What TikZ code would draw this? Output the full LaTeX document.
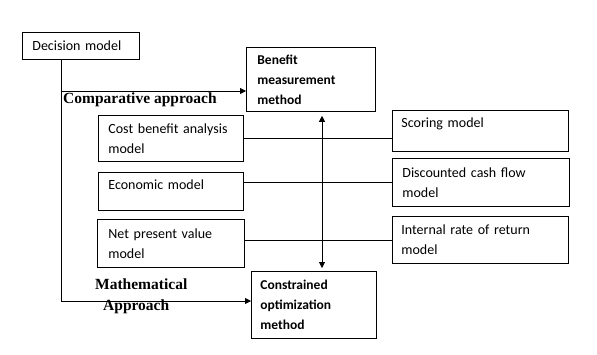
\documentclass[tikz,border=0pt]{standalone}
\usepackage{fontspec}
\setmainfont{Carlito}
\newfontfamily\headfont{Liberation Serif}
\usetikzlibrary{arrows.meta,positioning}

\tikzset{
  modelbox/.style={draw, line width=.8pt, anchor=north west, align=left,
    inner xsep=10pt, inner ysep=2pt, font=\fontsize{14}{20}\selectfont},
  topline/.style={inner ysep=3pt, text height=14.5pt, text depth=#1},
  approach/.style={inner sep=0pt, align=left,
    font=\headfont\bfseries\fontsize{15.5}{21}\selectfont},
  link/.style={line width=.8pt},
  flow/.style={link, -{Triangle[length=6pt,width=6pt]}},
}

\begin{document}
\begin{tikzpicture}[x=1pt,y=-1pt]
  \useasboundingbox[fill=white] (0,0) rectangle (597,354);
  % boxes
  \node[modelbox, text width=97pt, minimum height=27pt] (decision) at (22,32) {Decision model};
  \node[modelbox, inner xsep=11pt, text width=107pt, minimum height=64pt, font=\bfseries\fontsize{13.5}{20}\selectfont] (benefit) at (246,47) {Benefit\\measurement\\method};
  \node[modelbox, text width=125pt, minimum height=46pt] (cost) at (98,115) {Cost benefit analysis\\model};
  \node[modelbox, topline=17.5pt, text width=125pt, minimum height=38pt] (econ) at (98,172) {Economic model};
  \node[modelbox, inner xsep=11pt, text width=125pt, minimum height=48pt] (npv) at (97,219) {Net present value\\model};
  \node[modelbox, inner xsep=9pt, topline=20.5pt, text width=158pt, minimum height=41pt] (scoring) at (392,110) {Scoring model};
  \node[modelbox, text width=157pt, minimum height=48pt] (dcf) at (392,158) {Discounted cash flow\\model};
  \node[modelbox, inner xsep=9pt, text width=158pt, minimum height=47pt] (irr) at (392,216) {Internal rate of return\\model};
  \node[modelbox, inner xsep=9pt, text width=107pt, minimum height=67pt, font=\bfseries\fontsize{13.5}{20}\selectfont] (constrained) at (251,271) {Constrained\\optimization\\method};
  % approach labels
  \node[approach, anchor=west] (comparative) at (63,100) {Comparative approach};
  \node[approach, anchor=north west] (mathematical) at (95,279) {Mathematical\\\hspace*{8pt}Approach};
  % connectors
  \coordinate (split) at (61,91);
  \coordinate (trunk) at (61,301);
  \coordinate (shaft) at (322,0);
  \draw[link] (decision.south -| trunk) -- (trunk);
  \draw[flow] (split) -- (split -| benefit.west);
  \draw[flow] (trunk) -- (trunk -| constrained.west);
  \draw[link, {Triangle[length=6pt,width=6pt]}-{Triangle[length=6pt,width=6pt]}, shorten <=4pt, shorten >=3pt]
    (benefit.south -| shaft) -- (constrained.north -| shaft);
  \draw[link] (cost.east) -- (cost.east -| scoring.west);
  \draw[link] (dcf.west) -- (dcf.west -| econ.east);
  \draw[link] (irr.west) -- (irr.west -| npv.east);
\end{tikzpicture}
\end{document}
